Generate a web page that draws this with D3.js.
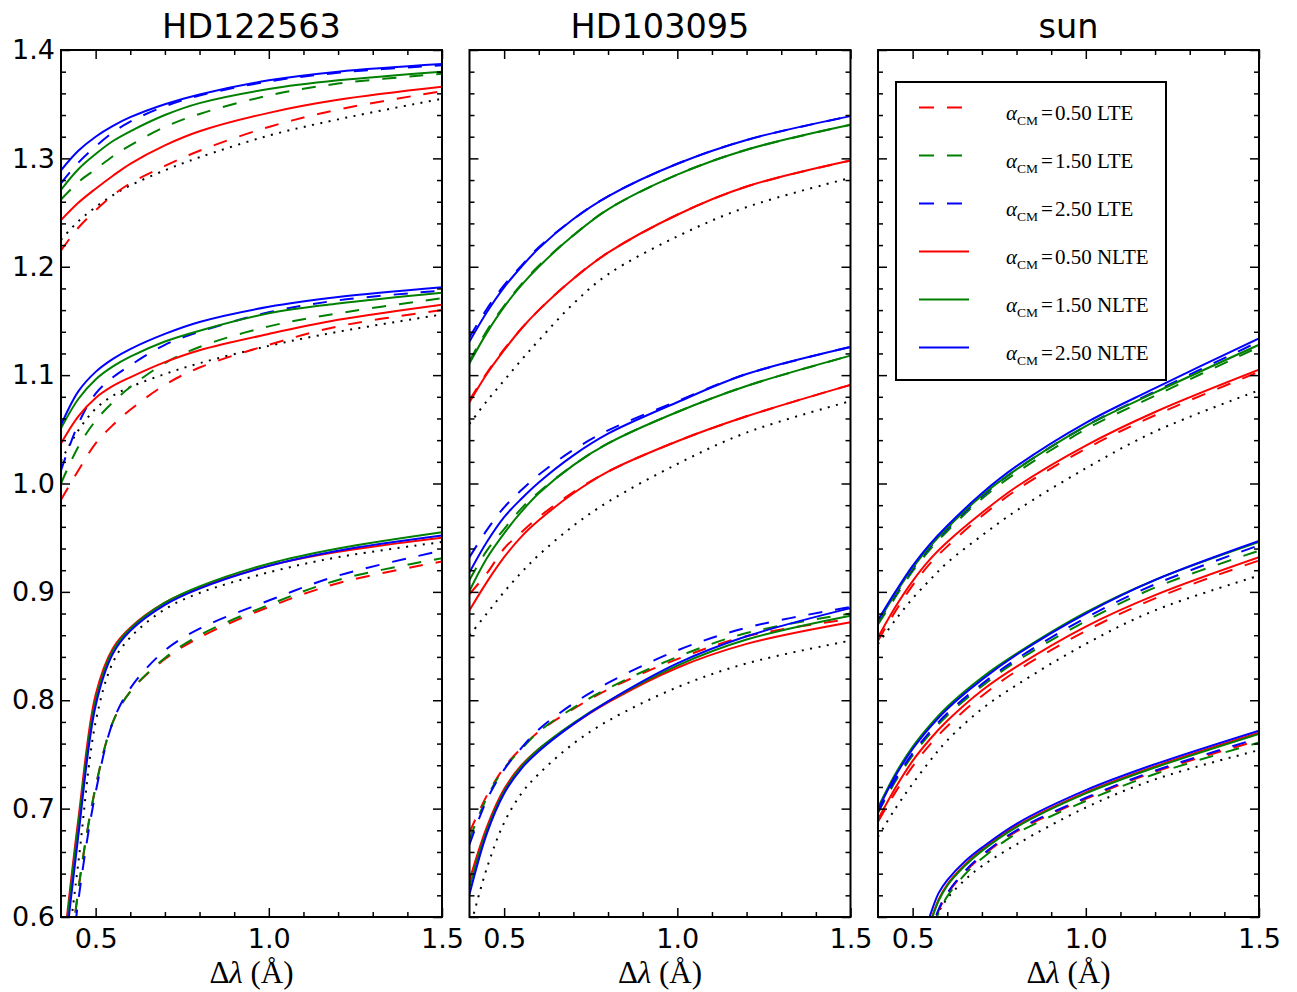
<!DOCTYPE html>
<html>
<head>
<meta charset="utf-8">
<script src="https://cdn.jsdelivr.net/npm/d3@7"></script>
<style>
  body { margin: 0; background: #fff; }
  svg text { fill: #000; }
</style>
</head>
<body>
<div id="chart"></div>
<script>
// wavelength offsets (Angstrom) at which the profiles are sampled
const dlam = [0.4, 0.45, 0.5, 0.55, 0.6, 0.7, 0.8, 1.0, 1.2, 1.5];
// finer grid for the lower solar line, which only enters the window at ~0.55
const dlamSunLow = [0.5, 0.55, 0.575, 0.6, 0.65, 0.7, 0.8, 1.0, 1.2, 1.5];
const starNames = ["HD122563", "HD103095", "sun"];
const alphaCM = ["0.50", "1.50", "2.50"];
const xTicks = [0.5, 1.0, 1.5];
const yTicks = [0.6, 0.7, 0.8, 0.9, 1.0, 1.1, 1.2, 1.3, 1.4];

// HD122563 - upper, middle, lower line
const h1_a_obs    = [1.225, 1.242, 1.255, 1.266, 1.275, 1.289, 1.301, 1.321, 1.336, 1.355];
const h1_a_lte050 = [1.215, 1.236, 1.252, 1.266, 1.277, 1.293, 1.307, 1.329, 1.345, 1.362];
const h1_a_lte150 = [1.262, 1.278, 1.290, 1.302, 1.312, 1.329, 1.341, 1.358, 1.369, 1.378];
const h1_a_lte250 = [1.277, 1.296, 1.311, 1.324, 1.334, 1.348, 1.358, 1.371, 1.379, 1.386];
const h1_a_nlte050 = [1.243, 1.259, 1.272, 1.284, 1.295, 1.312, 1.325, 1.342, 1.354, 1.366];
const h1_a_nlte150 = [1.271, 1.290, 1.304, 1.316, 1.325, 1.340, 1.351, 1.364, 1.372, 1.380];
const h1_a_nlte250 = [1.289, 1.307, 1.320, 1.330, 1.338, 1.350, 1.359, 1.372, 1.380, 1.387];

const h1_b_obs    = [1.021, 1.049, 1.069, 1.081, 1.089, 1.101, 1.111, 1.127, 1.140, 1.156];
const h1_b_lte050 = [0.985, 1.012, 1.037, 1.054, 1.068, 1.091, 1.107, 1.128, 1.145, 1.160];
const h1_b_lte150 = [1.000, 1.034, 1.058, 1.075, 1.089, 1.111, 1.126, 1.145, 1.157, 1.171];
const h1_b_lte250 = [1.012, 1.055, 1.083, 1.098, 1.109, 1.128, 1.140, 1.158, 1.169, 1.178];
const h1_b_nlte050 = [1.037, 1.062, 1.079, 1.090, 1.098, 1.112, 1.123, 1.138, 1.151, 1.165];
const h1_b_nlte150 = [1.051, 1.078, 1.096, 1.108, 1.117, 1.131, 1.141, 1.157, 1.166, 1.176];
const h1_b_nlte250 = [1.054, 1.085, 1.103, 1.115, 1.124, 1.138, 1.149, 1.163, 1.172, 1.181];

const h1_c_obs    = [0.52, 0.65, 0.78, 0.835, 0.858, 0.884, 0.899, 0.918, 0.932, 0.946];
const h1_c_lte050 = [0.48, 0.625, 0.72, 0.780, 0.808, 0.838, 0.858, 0.886, 0.908, 0.928];
const h1_c_lte150 = [0.48, 0.625, 0.72, 0.780, 0.808, 0.839, 0.860, 0.888, 0.911, 0.931];
const h1_c_lte250 = [0.47, 0.615, 0.715, 0.780, 0.811, 0.846, 0.866, 0.892, 0.915, 0.938];
const h1_c_nlte050 = [0.55, 0.69, 0.805, 0.848, 0.867, 0.890, 0.904, 0.924, 0.937, 0.950];
const h1_c_nlte150 = [0.545, 0.685, 0.80, 0.846, 0.866, 0.890, 0.905, 0.926, 0.940, 0.955];
const h1_c_nlte250 = [0.535, 0.675, 0.795, 0.843, 0.864, 0.888, 0.903, 0.924, 0.938, 0.952];

// HD103095
const h2_a_obs    = [1.055, 1.076, 1.095, 1.114, 1.132, 1.166, 1.193, 1.228, 1.255, 1.282];
const h2_a_lte050 = [1.077, 1.102, 1.124, 1.143, 1.160, 1.189, 1.213, 1.248, 1.274, 1.298];
const h2_a_lte150 = [1.113, 1.141, 1.164, 1.184, 1.201, 1.229, 1.253, 1.285, 1.308, 1.331];
const h2_a_lte250 = [1.135, 1.161, 1.183, 1.201, 1.218, 1.244, 1.265, 1.295, 1.317, 1.339];
const h2_a_nlte050 = [1.075, 1.101, 1.123, 1.143, 1.160, 1.189, 1.213, 1.248, 1.274, 1.298];
const h2_a_nlte150 = [1.111, 1.139, 1.163, 1.183, 1.200, 1.229, 1.253, 1.285, 1.308, 1.331];
const h2_a_nlte250 = [1.131, 1.158, 1.181, 1.200, 1.217, 1.244, 1.265, 1.295, 1.317, 1.339];

const h2_b_obs    = [0.860, 0.880, 0.900, 0.918, 0.934, 0.961, 0.983, 1.018, 1.047, 1.076];
const h2_b_lte050 = [0.898, 0.917, 0.940, 0.955, 0.969, 0.992, 1.011, 1.039, 1.062, 1.091];
const h2_b_lte150 = [0.911, 0.938, 0.958, 0.977, 0.992, 1.017, 1.037, 1.066, 1.090, 1.118];
const h2_b_lte250 = [0.932, 0.957, 0.978, 0.994, 1.008, 1.031, 1.049, 1.076, 1.101, 1.126];
const h2_b_nlte050 = [0.883, 0.909, 0.932, 0.951, 0.966, 0.991, 1.011, 1.039, 1.062, 1.091];
const h2_b_nlte150 = [0.901, 0.931, 0.954, 0.974, 0.991, 1.017, 1.037, 1.066, 1.090, 1.118];
const h2_b_nlte250 = [0.918, 0.946, 0.969, 0.986, 1.001, 1.026, 1.046, 1.075, 1.101, 1.126];

const h2_c_obs    = [0.588, 0.645, 0.687, 0.714, 0.732, 0.760, 0.781, 0.812, 0.834, 0.855];
const h2_c_lte050 = [0.678, 0.712, 0.738, 0.756, 0.771, 0.792, 0.810, 0.838, 0.859, 0.875];
const h2_c_lte150 = [0.672, 0.710, 0.737, 0.755, 0.771, 0.793, 0.811, 0.840, 0.862, 0.880];
const h2_c_lte250 = [0.667, 0.708, 0.736, 0.756, 0.773, 0.797, 0.816, 0.846, 0.867, 0.886];
const h2_c_nlte050 = [0.634, 0.683, 0.718, 0.740, 0.755, 0.778, 0.798, 0.830, 0.852, 0.872];
const h2_c_nlte150 = [0.628, 0.680, 0.716, 0.739, 0.755, 0.779, 0.799, 0.832, 0.856, 0.878];
const h2_c_nlte250 = [0.621, 0.677, 0.714, 0.737, 0.753, 0.778, 0.799, 0.834, 0.859, 0.885];

// sun
const h3_a_obs    = [0.852, 0.874, 0.894, 0.911, 0.927, 0.952, 0.975, 1.014, 1.048, 1.086];
const h3_a_lte050 = [0.855, 0.882, 0.906, 0.926, 0.942, 0.970, 0.994, 1.032, 1.063, 1.103];
const h3_a_lte150 = [0.870, 0.895, 0.919, 0.939, 0.956, 0.986, 1.010, 1.050, 1.081, 1.126];
const h3_a_lte250 = [0.872, 0.897, 0.921, 0.941, 0.958, 0.988, 1.013, 1.053, 1.085, 1.131];
const h3_a_nlte050 = [0.858, 0.886, 0.910, 0.930, 0.946, 0.973, 0.997, 1.035, 1.066, 1.105];
const h3_a_nlte150 = [0.872, 0.898, 0.922, 0.942, 0.959, 0.989, 1.013, 1.053, 1.084, 1.128];
const h3_a_nlte250 = [0.874, 0.900, 0.924, 0.944, 0.961, 0.991, 1.016, 1.056, 1.088, 1.134];

const h3_b_obs    = [0.674, 0.700, 0.723, 0.744, 0.763, 0.792, 0.814, 0.852, 0.883, 0.915];
const h3_b_lte050 = [0.688, 0.715, 0.739, 0.759, 0.776, 0.804, 0.827, 0.864, 0.894, 0.929];
const h3_b_lte150 = [0.696, 0.725, 0.749, 0.769, 0.786, 0.813, 0.836, 0.873, 0.904, 0.938];
const h3_b_lte250 = [0.697, 0.727, 0.751, 0.771, 0.788, 0.815, 0.838, 0.876, 0.907, 0.943];
const h3_b_nlte050 = [0.690, 0.719, 0.744, 0.764, 0.781, 0.809, 0.831, 0.868, 0.897, 0.932];
const h3_b_nlte150 = [0.701, 0.732, 0.757, 0.777, 0.794, 0.821, 0.843, 0.881, 0.911, 0.946];
const h3_b_nlte250 = [0.699, 0.730, 0.755, 0.775, 0.792, 0.819, 0.842, 0.880, 0.911, 0.947];

// sun, lower line (sampled on dlamSunLow)
const h3_c_obs    = [0.50, 0.578, 0.604, 0.617, 0.634, 0.647, 0.667, 0.701, 0.727, 0.754];
const h3_c_lte050 = [0.53, 0.582, 0.606, 0.621, 0.641, 0.656, 0.679, 0.709, 0.734, 0.763];
const h3_c_lte150 = [0.52, 0.580, 0.604, 0.619, 0.639, 0.654, 0.677, 0.707, 0.732, 0.761];
const h3_c_lte250 = [0.53, 0.583, 0.607, 0.622, 0.642, 0.657, 0.680, 0.710, 0.735, 0.765];
const h3_c_nlte050 = [0.54, 0.594, 0.616, 0.630, 0.648, 0.662, 0.684, 0.715, 0.739, 0.770];
const h3_c_nlte150 = [0.54, 0.593, 0.615, 0.629, 0.647, 0.661, 0.683, 0.714, 0.738, 0.769];
const h3_c_nlte250 = [0.55, 0.601, 0.622, 0.634, 0.651, 0.664, 0.686, 0.717, 0.741, 0.772];

// each group: [x grid, observed, [LTE 0.5, 1.5, 2.5], [NLTE 0.5, 1.5, 2.5]]
const panelGroups = [
  [
    [dlam, h1_a_obs, [h1_a_lte050, h1_a_lte150, h1_a_lte250], [h1_a_nlte050, h1_a_nlte150, h1_a_nlte250]],
    [dlam, h1_b_obs, [h1_b_lte050, h1_b_lte150, h1_b_lte250], [h1_b_nlte050, h1_b_nlte150, h1_b_nlte250]],
    [dlam, h1_c_obs, [h1_c_lte050, h1_c_lte150, h1_c_lte250], [h1_c_nlte050, h1_c_nlte150, h1_c_nlte250]]
  ],
  [
    [dlam, h2_a_obs, [h2_a_lte050, h2_a_lte150, h2_a_lte250], [h2_a_nlte050, h2_a_nlte150, h2_a_nlte250]],
    [dlam, h2_b_obs, [h2_b_lte050, h2_b_lte150, h2_b_lte250], [h2_b_nlte050, h2_b_nlte150, h2_b_nlte250]],
    [dlam, h2_c_obs, [h2_c_lte050, h2_c_lte150, h2_c_lte250], [h2_c_nlte050, h2_c_nlte150, h2_c_nlte250]]
  ],
  [
    [dlam, h3_a_obs, [h3_a_lte050, h3_a_lte150, h3_a_lte250], [h3_a_nlte050, h3_a_nlte150, h3_a_nlte250]],
    [dlam, h3_b_obs, [h3_b_lte050, h3_b_lte150, h3_b_lte250], [h3_b_nlte050, h3_b_nlte150, h3_b_nlte250]],
    [dlamSunLow, h3_c_obs, [h3_c_lte050, h3_c_lte150, h3_c_lte250], [h3_c_nlte050, h3_c_nlte150, h3_c_nlte250]]
  ]
];

const colors = ["#ff0000", "#008000", "#0000ff"];
const dashLTE = "14,13";
const dotObs = "2,6.5";

const W = 1297, H = 992;
const panelLeft = [61, 469.5, 878], panelW = 381;
const plotTop = 50, plotBottom = 917;
const sans = "DejaVu Sans";
const serif = "Liberation Serif";

const svg = d3.select("#chart").append("svg")
  .attr("width", W).attr("height", H)
  .style("background", "#fff");

const y = d3.scaleLinear().domain([0.6, 1.4]).range([plotBottom, plotTop]);
const yMinor = d3.range(0.62, 1.4, 0.02).filter(v => Math.abs(v * 10 - Math.round(v * 10)) > 0.01);
const xMinor = [0.6, 0.7, 0.8, 0.9, 1.1, 1.2, 1.3, 1.4];

function styleAxis(g) {
  g.select(".domain").remove();
  g.selectAll(".tick line").attr("stroke", "#000").attr("stroke-width", 1.5);
  g.selectAll("text").attr("font-family", sans).attr("font-size", 27);
}

panelGroups.forEach((groups, pi) => {
  const x0 = panelLeft[pi];
  const x = d3.scaleLinear().domain([0.4, 1.5]).range([x0, x0 + panelW]);
  const g = svg.append("g");

  g.append("clipPath").attr("id", "clip" + pi)
    .append("rect").attr("x", x0).attr("y", plotTop).attr("width", panelW).attr("height", plotBottom - plotTop);

  const plot = g.append("g").attr("clip-path", `url(#clip${pi})`);
  groups.forEach(([xs, obs, lte, nlte]) => {
    const line = d3.line()
      .x((d, j) => x(xs[j]))
      .y(d => y(d))
      .curve(d3.curveCatmullRom.alpha(0.5));

    plot.append("path").attr("d", line(obs))
      .attr("fill", "none").attr("stroke", "#000").attr("stroke-width", 2)
      .attr("stroke-dasharray", dotObs);
    lte.forEach((s, k) => {
      plot.append("path").attr("d", line(s))
        .attr("fill", "none").attr("stroke", colors[k]).attr("stroke-width", 2)
        .attr("stroke-dasharray", dashLTE);
    });
    nlte.forEach((s, k) => {
      plot.append("path").attr("d", line(s))
        .attr("fill", "none").attr("stroke", colors[k]).attr("stroke-width", 2);
    });
  });

  // ticks pointing inward on all four sides
  g.append("g").attr("transform", `translate(0,${plotBottom})`)
    .call(d3.axisBottom(x).tickValues(xTicks).tickSizeInner(-9).tickSizeOuter(0)
      .tickPadding(12).tickFormat(d3.format(".1f")))
    .call(styleAxis);
  g.append("g").attr("transform", `translate(0,${plotBottom})`)
    .call(d3.axisBottom(x).tickValues(xMinor).tickSizeInner(-5).tickSizeOuter(0).tickFormat(""))
    .call(styleAxis);
  g.append("g").attr("transform", `translate(0,${plotTop})`)
    .call(d3.axisTop(x).tickValues(xTicks).tickSizeInner(-9).tickSizeOuter(0).tickFormat(""))
    .call(styleAxis);
  g.append("g").attr("transform", `translate(0,${plotTop})`)
    .call(d3.axisTop(x).tickValues(xMinor).tickSizeInner(-5).tickSizeOuter(0).tickFormat(""))
    .call(styleAxis);

  g.append("g").attr("transform", `translate(${x0},0)`)
    .call(d3.axisLeft(y).tickValues(yTicks).tickSizeInner(-9).tickSizeOuter(0)
      .tickPadding(6).tickFormat(pi === 0 ? d3.format(".1f") : ""))
    .call(styleAxis);
  g.append("g").attr("transform", `translate(${x0},0)`)
    .call(d3.axisLeft(y).tickValues(yMinor).tickSizeInner(-5).tickSizeOuter(0).tickFormat(""))
    .call(styleAxis);
  g.append("g").attr("transform", `translate(${x0 + panelW},0)`)
    .call(d3.axisRight(y).tickValues(yTicks).tickSizeInner(-9).tickSizeOuter(0).tickFormat(""))
    .call(styleAxis);
  g.append("g").attr("transform", `translate(${x0 + panelW},0)`)
    .call(d3.axisRight(y).tickValues(yMinor).tickSizeInner(-5).tickSizeOuter(0).tickFormat(""))
    .call(styleAxis);

  g.append("rect")
    .attr("x", x0).attr("y", plotTop).attr("width", panelW).attr("height", plotBottom - plotTop)
    .attr("fill", "none").attr("stroke", "#000").attr("stroke-width", 2);

  g.append("text")
    .attr("x", x0 + panelW / 2).attr("y", 38)
    .attr("text-anchor", "middle")
    .attr("font-family", sans).attr("font-size", 33.5)
    .text(starNames[pi]);

  const xl = g.append("text")
    .attr("x", x0 + panelW / 2).attr("y", 983)
    .attr("text-anchor", "middle")
    .attr("font-family", serif).attr("font-size", 31);
  xl.append("tspan").text("Δ");
  xl.append("tspan").attr("font-style", "italic").text("λ");
  xl.append("tspan").text(" (Å)");
});

// legend in the sun panel
const legend = svg.append("g");
legend.append("rect")
  .attr("x", 896).attr("y", 82).attr("width", 270).attr("height", 298)
  .attr("fill", "#fff").attr("stroke", "#000").attr("stroke-width", 2);

const legendRows = [];
["LTE", "NLTE"].forEach(kind => alphaCM.forEach((a, k) => legendRows.push({ kind, a, k })));

legendRows.forEach((r, i) => {
  const ly = 107.5 + i * 48;
  legend.append("line")
    .attr("x1", 919).attr("x2", 969).attr("y1", ly).attr("y2", ly)
    .attr("stroke", colors[r.k]).attr("stroke-width", 2)
    .attr("stroke-dasharray", r.kind === "LTE" ? "15,13" : null);
  const t = legend.append("text")
    .attr("x", 1006).attr("y", ly + 12)
    .attr("font-family", serif).attr("font-size", 21);
  t.append("tspan").attr("font-style", "italic").text("α");
  t.append("tspan").attr("font-size", 13.5).attr("dy", 5).text("CM");
  t.append("tspan").attr("dy", -5).attr("dx", 3).text("=");
  t.append("tspan").attr("dx", 2).text(r.a + " " + r.kind);
});
</script>
</body>
</html>
